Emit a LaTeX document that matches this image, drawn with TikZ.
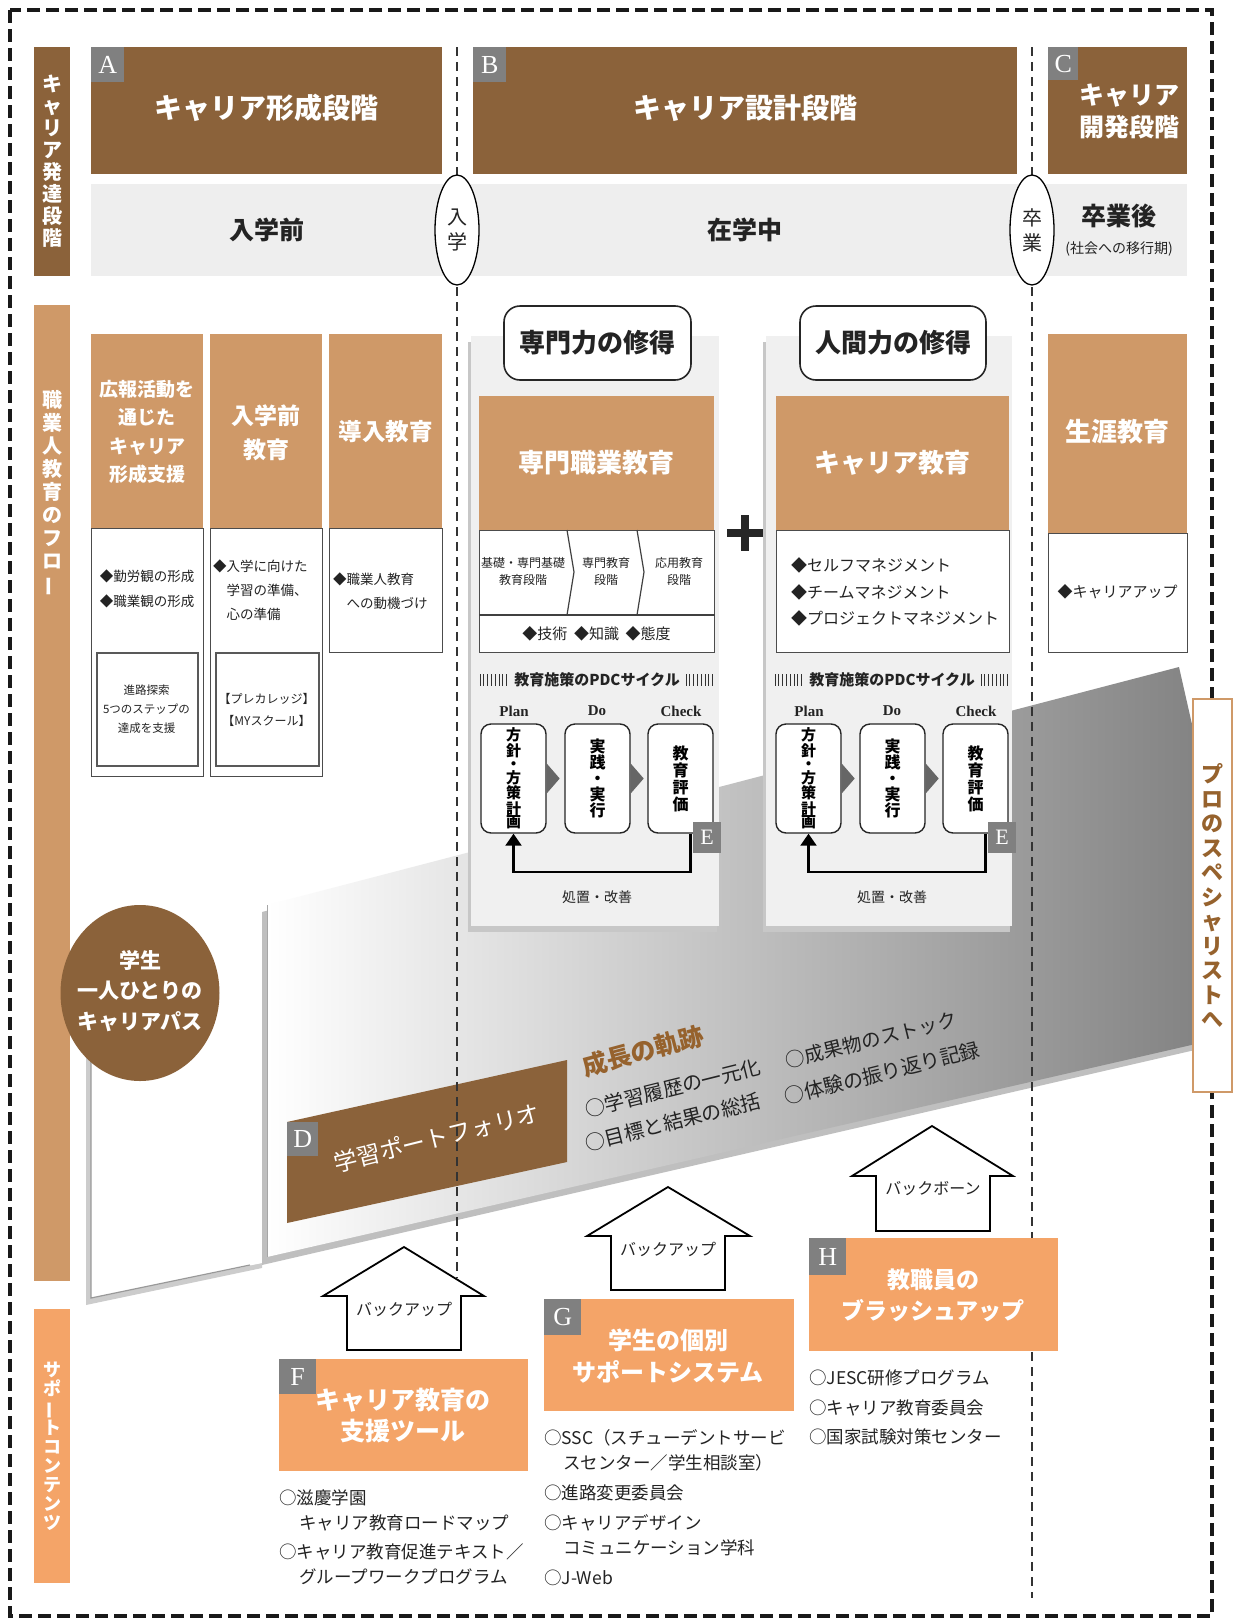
\documentclass[tikz,border=0pt]{standalone}
\usepackage{fontspec}
\setmainfont{Noto Sans CJK JP}
\newfontfamily\serif{Liberation Serif}
\usetikzlibrary{shapes.geometric,arrows.meta,calc}
\definecolor{dbrown}{RGB}{139,98,58}
\definecolor{lbrown}{RGB}{207,153,104}
\definecolor{orng}{RGB}{244,164,104}
\definecolor{lblgray}{RGB}{128,128,128}
\definecolor{bandgray}{RGB}{238,238,238}
\definecolor{panelgray}{RGB}{240,240,240}
\definecolor{txtbrown}{RGB}{150,98,45}
\definecolor{dtxt}{RGB}{35,35,35}
\newcommand\fs[2]{\fontsize{#1}{#2}\selectfont}
\newcommand\vbar{\rotatebox[origin=c]{90}{ー}}
\begin{document}
\begin{tikzpicture}[x=1pt,y=-1pt,
  rb/.style={rectangle,inner sep=0pt,anchor=north west},
  lbl/.style={rb,fill=lblgray,text=white,font=\serif\fs{26}{26},minimum width=33pt,minimum height=35pt},
  vt/.style={align=center,inner sep=0pt},
  ttl/.style={text=white,font=\bfseries\fs{28}{34},inner sep=0pt},
  wbox/.style={rb,fill=white,draw=black!70,line width=1.2pt},
  ibox/.style={rb,draw=black!65,line width=1.6pt},
  pdcbox/.style={draw=black!85,fill=white,rounded corners=10pt,line width=1.4pt,minimum width=65pt,minimum height=109pt,inner sep=0pt,align=center,font=\bfseries\fs{15}{14}},
  pdcl/.style={font=\serif\bfseries\fs{15}{15},text=dtxt,inner sep=0pt},
  vdash/.style={draw=black!80,line width=1.3pt,dash pattern=on 9pt off 6pt},
  house/.style={draw=black,fill=white,line width=1.8pt,line join=miter},
  tri/.style={fill=black!60},
  fb/.style={line width=2.2pt,-{Triangle[width=16pt,length=12pt]}},
  bul/.style={anchor=west,inner sep=0pt,text=dtxt,font=\fs{17.5}{22}},
  slant/.style={inner sep=0pt,text=dtxt,font=\fs{20}{24},rotate=14}
]
\useasboundingbox (0,0) rectangle (1232,1622);
\fill[white] (0,0) rectangle (1232,1622);

% ---------- back panel and big arrow ----------
\fill[black!20] (86,1006) -- (262,968) -- (262,1268) -- (86,1305) -- cycle;
\fill[white] (91,1000) -- (267,962) -- (267,1262) -- (91,1298) -- cycle;
\draw[black!40,line width=1.2pt] (91,1040) -- (91,1298) -- (250,1265);
\fill[black!25] (262,912) -- (1174,674) -- (1220,877) -- (1195,1050) -- (262,1265) -- cycle;
\shade[left color=white,right color=black!50] (267,905) -- (1179,667) -- (1225,870) -- (1200,1043) -- (267,1257) -- cycle;
\draw[black!35,line width=1pt] (267,905) -- (267,1257);

% ---------- left bars ----------
\node[rb,fill=dbrown,minimum width=36pt,minimum height=229pt] (bar1) at (34,47) {};
\node[vt,text=white,font=\bfseries\fs{20}{22}] (bar1t) at (bar1.center) {キ\\ャ\\リ\\ア\\発\\達\\段\\階};
\node[rb,fill=lbrown,minimum width=36pt,minimum height=976pt] (bar2) at (34,305) {};
\node[vt,text=white,font=\bfseries\fs{20}{23},anchor=north] (bar2t) at (52,390) {職\\業\\人\\教\\育\\の\\フ\\ロ\\\vbar};
\node[rb,fill=orng,minimum width=36pt,minimum height=274pt] (bar3) at (34,1309) {};
\node[vt,text=white,font=\bfseries\fs{18}{19}] (bar3t) at (bar3.center) {サ\\ポ\\\vbar\\ト\\コ\\ン\\テ\\ン\\ツ};

% ---------- top stage boxes ----------
\node[rb,fill=dbrown,minimum width=351pt,minimum height=127pt] (A) at (91,47) {};
\node[lbl] (Al) at (91,47) {A};
\node[ttl] (At) at (266.5,108) {キャリア形成段階};
\node[rb,fill=dbrown,minimum width=544pt,minimum height=127pt] (B) at (473,47) {};
\node[lbl] (Bl) at (473,47) {B};
\node[ttl] (Bt) at (745,108) {キャリア設計段階};
\node[rb,fill=dbrown,minimum width=139pt,minimum height=127pt] (C) at (1048,47) {};
\node[lbl,minimum width=30pt,minimum height=33pt] (Cl) at (1048,47) {C};
\node[text=white,font=\bfseries\fs{25}{32},align=right,anchor=east,inner sep=0pt] (Ct) at (1180,111) {キャリア\\開発段階};

% ---------- band ----------
\node[rb,fill=bandgray,minimum width=1096pt,minimum height=92pt] (band) at (91,184) {};
\node[font=\bfseries\fs{25}{25},text=dtxt] (pre) at (267,230) {入学前};
\node[font=\bfseries\fs{25}{25},text=dtxt] (during) at (745,230) {在学中};
\node[font=\bfseries\fs{25}{25},text=dtxt] (post) at (1119,216) {卒業後};
\node[font=\fs{14}{14},text=dtxt] (postsub) at (1119,249) {(社会への移行期)};

% ---------- row 2, left columns ----------
\node[wbox,minimum width=112pt,minimum height=248pt] (c1w) at (91,528) {};
\node[rb,fill=lbrown,minimum width=112pt,minimum height=194pt] (c1o) at (91,334) {};
\node[ibox,minimum width=101pt,minimum height=113pt] (c1i) at (96,652) {};
\node[vt,text=white,font=\bfseries\fs{19}{28.3}] (c1t) at (147,432) {広報活動を\\通じた\\キャリア\\形成支援};
\node[vt,text=dtxt,font=\fs{13.5}{25}] (c1b) at (147,589) {◆勤労観の形成\\◆職業観の形成};
\node[vt,text=dtxt,font=\fs{11.5}{19}] (c1c) at (146.5,709) {進路探索\\5つのステップの\\達成を支援};

\node[wbox,minimum width=112pt,minimum height=248pt] (c2w) at (210,528) {};
\node[rb,fill=lbrown,minimum width=112pt,minimum height=194pt] (c2o) at (210,334) {};
\node[ibox,minimum width=103pt,minimum height=113pt] (c2i) at (215,652) {};
\node[vt,text=white,font=\bfseries\fs{23}{34}] (c2t) at (266,433) {入学前\\教育};
\node[align=left,inner sep=0pt,anchor=west,text=dtxt,font=\fs{13.5}{24}] (c2b) at (213,590) {◆入学に向けた\\\hphantom{◆}学習の準備、\\\hphantom{◆}心の準備};
\node[vt,text=dtxt,font=\fs{12}{22}] (c2c) at (266.5,710) {【プレカレッジ】\\【MYスクール】};

\node[wbox,minimum width=113pt,minimum height=124pt] (c3w) at (329,528) {};
\node[rb,fill=lbrown,minimum width=113pt,minimum height=194pt] (c3o) at (329,334) {};
\node[text=white,font=\bfseries\fs{23.5}{30},inner sep=0pt] (c3t) at (385.5,432) {導入教育};
\node[align=left,inner sep=0pt,anchor=west,text=dtxt,font=\fs{13.5}{24}] (c3b) at (333,591) {◆職業人教育\\\hphantom{◆}への動機づけ};

% ---------- middle panels ----------
\fill[black!22] (468,342) rectangle (717,932);
\node[rb,fill=panelgray,minimum width=248pt,minimum height=590pt] (p1) at (471,336) {};
\fill[black!22] (763,342) rectangle (1010,932);
\node[rb,fill=panelgray,minimum width=246pt,minimum height=590pt] (p2) at (766,336) {};

\node[draw=black!85,fill=white,rounded corners=16pt,line width=1.6pt,minimum width=187pt,minimum height=74pt,font=\bfseries\fs{26}{30},text=dtxt] (h1) at (597.5,343) {専門力の修得};
\node[draw=black!85,fill=white,rounded corners=16pt,line width=1.6pt,minimum width=186pt,minimum height=74pt,font=\bfseries\fs{26}{30},text=dtxt] (h2) at (893,343) {人間力の修得};

\node[wbox,minimum width=235pt,minimum height=122pt] (m1w) at (479,530) {};
\node[rb,fill=lbrown,minimum width=235pt,minimum height=134pt] (m1o) at (479,396) {};
\node[text=white,font=\bfseries\fs{26}{30},inner sep=0pt] (m1t) at (596.5,463) {専門職業教育};
\draw[black!75,line width=1.2pt] (m1w.west |- 0,615) -- (m1w.east |- 0,615);
\draw[black!75,line width=1.2pt] (567,530) -- (574,572) -- (567,615);
\draw[black!75,line width=1.2pt] (637,530) -- (644,572) -- (637,615);
\node[vt,text=dtxt,font=\fs{12}{17}] (s1) at (523,571) {基礎・専門基礎\\教育段階};
\node[vt,text=dtxt,font=\fs{12}{17}] (s2) at (606,571) {専門教育\\段階};
\node[vt,text=dtxt,font=\fs{12}{17}] (s3) at (679,571) {応用教育\\段階};
\node[text=dtxt,font=\fs{15}{15},inner sep=0pt] (s4) at (596.5,634) {◆技術\ \ ◆知識\ \ ◆態度};

\node[wbox,minimum width=233pt,minimum height=122pt] (m2w) at (776,530) {};
\node[rb,fill=lbrown,minimum width=233pt,minimum height=134pt] (m2o) at (776,396) {};
\node[text=white,font=\bfseries\fs{26}{30},inner sep=0pt] (m2t) at (892.5,463) {キャリア教育};
\node[align=left,inner sep=0pt,anchor=west,text=dtxt,font=\fs{16}{26.5}] (m2b) at (791,592) {◆セルフマネジメント\\◆チームマネジメント\\◆プロジェクトマネジメント};

% plus sign
\draw[black!85,line width=8pt] (727,533) -- (763,533);
\draw[black!85,line width=8pt] (745,515) -- (745,551);

% ---------- PDC cycles ----------
\foreach \dx/\q in {0/1,295/2}{
  \foreach \i in {0,...,7}{
    \draw[black!80,line width=1pt] (480+\dx+\i*3.8,674) -- ++(0,12);
    \draw[black!80,line width=1pt] (686+\dx+\i*3.8,674) -- ++(0,12);
  }
  \node[text=dtxt,font=\bfseries\fs{15}{15},inner sep=0pt] (pdct\q) at (597+\dx,680) {教育施策のPDCサイクル};
  \node[pdcl] (pl\q) at (514+\dx,711) {Plan};
  \node[pdcl] (dl\q) at (597+\dx,711) {Do};
  \node[pdcl] (cl\q) at (681+\dx,711) {Check};
  \node[pdcbox,font=\bfseries\fs{15}{13.6}] (plan\q) at (513.5+\dx,778.5) {方\\針\\・\\方\\策\\計\\画};
  \node[pdcbox,font=\bfseries\fs{16}{16}] (do\q) at (597.5+\dx,778.5) {実\\践\\・\\実\\行};
  \node[pdcbox,font=\bfseries\fs{16}{17}] (chk\q) at (680.5+\dx,778.5) {教\\育\\評\\価};
  \fill[tri] ([yshift=15pt]plan\q.east) -- ++(13,15) -- ++(-13,15) -- cycle;
  \fill[tri] ([yshift=15pt]do\q.east) -- ++(13,15) -- ++(-13,15) -- cycle;
  \node[lbl,minimum width=28pt,minimum height=31pt,font=\serif\fs{22}{22}] (E\q) at (693+\dx,822) {E};
  \draw[fb] ([xshift=10pt]chk\q.south) -- ++(0,38) -| (plan\q.south);
  \node[text=dtxt,font=\fs{14}{14},inner sep=0pt] (kz\q) at (597+\dx,897) {処置・改善};
}

% ---------- column C ----------
\node[wbox,minimum width=139pt,minimum height=119pt] (cw) at (1048,533) {};
\node[rb,fill=lbrown,minimum width=139pt,minimum height=199pt] (co) at (1048,334) {};
\node[text=white,font=\bfseries\fs{26}{30},inner sep=0pt] (ct) at (1117.5,432) {生涯教育};
\node[text=dtxt,font=\fs{15}{15},inner sep=0pt] (cb) at (1117.5,592) {◆キャリアアップ};

% ---------- D: portfolio ----------
\fill[dbrown] (287,1122) -- (567,1060) -- (567,1162) -- (287,1223) -- cycle;
\node[lbl,minimum width=31pt,minimum height=34pt] (Dl) at (287,1122) {D};
\node[text=white,font=\fs{23.5}{26},rotate=14,inner sep=0pt] (Dt) at (437,1138) {学習ポートフォリオ};
\node[text=txtbrown,font=\bfseries\fs{25}{27},rotate=15,inner sep=0pt] (seicho) at (643,1051) {成長の軌跡};
\node[slant] (d1) at (673,1088) {○学習履歴の一元化};
\node[slant] (d2) at (673,1122) {○目標と結果の総括};
\node[slant,font=\fs{19.5}{24}] (d3) at (871,1040) {○成果物のストック};
\node[slant] (d4) at (882,1073) {○体験の振り返り記録};

% ---------- student circle ----------
\node[ellipse,fill=dbrown,minimum width=159pt,minimum height=176pt,inner sep=0pt] (stu) at (140,993) {};
\node[vt,text=white,font=\bfseries\fs{21}{30.5}] (stut) at (140,991) {学生\\一人ひとりの\\キャリアパス};

% ---------- dashed period lines ----------
\draw[vdash] (457,47) -- (457,1278);
\draw[vdash] (1032,47) -- (1032,1598);
\node[ellipse,draw=black,fill=white,line width=1.3pt,minimum width=44pt,minimum height=110pt,inner sep=0pt] (nyu) at (457,230) {};
\node[vt,text=dtxt,font=\fs{20}{25}] (nyut) at (nyu.center) {入\\学};
\node[ellipse,draw=black,fill=white,line width=1.3pt,minimum width=44pt,minimum height=110pt,inner sep=0pt] (sotsu) at (1032,230) {};
\node[vt,text=dtxt,font=\fs{20}{25}] (sotsut) at (sotsu.center) {卒\\業};

% ---------- backup arrows ----------
\draw[house] (404,1247) -- (484,1296) -- (461,1296) -- (461,1350) -- (347,1350) -- (347,1296) -- (323,1296) -- cycle;
\node[font=\fs{16}{16},text=dtxt,inner sep=0pt] (bf) at (404,1309) {バックアップ};
\draw[house] (668,1187) -- (750,1236) -- (725,1236) -- (725,1290) -- (611,1290) -- (611,1236) -- (587,1236) -- cycle;
\node[font=\fs{16}{16},text=dtxt,inner sep=0pt] (bg) at (668,1249) {バックアップ};
\draw[house] (932,1126) -- (1013,1176) -- (990,1176) -- (990,1231) -- (876,1231) -- (876,1176) -- (852,1176) -- cycle;
\node[font=\fs{16}{16},text=dtxt,inner sep=0pt] (bh) at (933,1189) {バックボーン};

% ---------- F, G, H ----------
\node[rb,fill=orng,minimum width=249pt,minimum height=112pt] (F) at (279,1359) {};
\node[lbl,minimum width=37pt,minimum height=35pt] (Fl) at (279,1359) {F};
\node[vt,text=white,font=\bfseries\fs{25}{31}] (Ft) at (403,1415) {キャリア教育の\\支援ツール};
\node[bul] (f1) at (279,1498) {○滋慶学園};
\node[bul] (f2) at (299,1523) {キャリア教育ロードマップ};
\node[bul] (f3) at (279,1552) {○キャリア教育促進テキスト／};
\node[bul] (f4) at (299,1577) {グループワークプログラム};

\node[rb,fill=orng,minimum width=250pt,minimum height=112pt] (G) at (544,1299) {};
\node[lbl,minimum width=37pt,minimum height=36pt] (Gl) at (544,1299) {G};
\node[vt,text=white,font=\bfseries\fs{24}{32}] (Gt) at (668,1356) {学生の個別\\サポートシステム};
\node[bul] (g1) at (544,1438) {○SSC（スチューデントサービ};
\node[bul] (g2) at (563,1463) {スセンター／学生相談室）};
\node[bul] (g3) at (544,1493) {○進路変更委員会};
\node[bul] (g4) at (544,1523) {○キャリアデザイン};
\node[bul] (g5) at (563,1548) {コミュニケーション学科};
\node[bul] (g6) at (544,1578) {○J-Web};

\node[rb,fill=orng,minimum width=249pt,minimum height=113pt] (H) at (809,1238) {};
\node[lbl,minimum width=37pt,minimum height=37pt] (Hl) at (809,1238) {H};
\node[vt,text=white,font=\bfseries\fs{23}{31}] (Ht) at (933,1295) {教職員の\\ブラッシュアップ};
\node[bul] (h1b) at (809,1378) {○JESC研修プログラム};
\node[bul] (h2b) at (809,1408) {○キャリア教育委員会};
\node[bul] (h3b) at (809,1437) {○国家試験対策センター};

% ---------- outer border ----------
\draw[black!90,line width=3.5pt,dash pattern=on 13pt off 6pt] (10,10) rectangle (1212,1616);

% ---------- goal label ----------
\node[rb,fill=white,draw=lbrown,line width=2pt,minimum width=39pt,minimum height=393pt] (goal) at (1192,698) {};
\node[vt,text=txtbrown,font=\bfseries\fs{22}{24.5}] (goalt) at (goal.center) {プ\\ロ\\の\\ス\\ペ\\シ\\ャ\\リ\\ス\\ト\\へ};
\end{tikzpicture}
\end{document}
